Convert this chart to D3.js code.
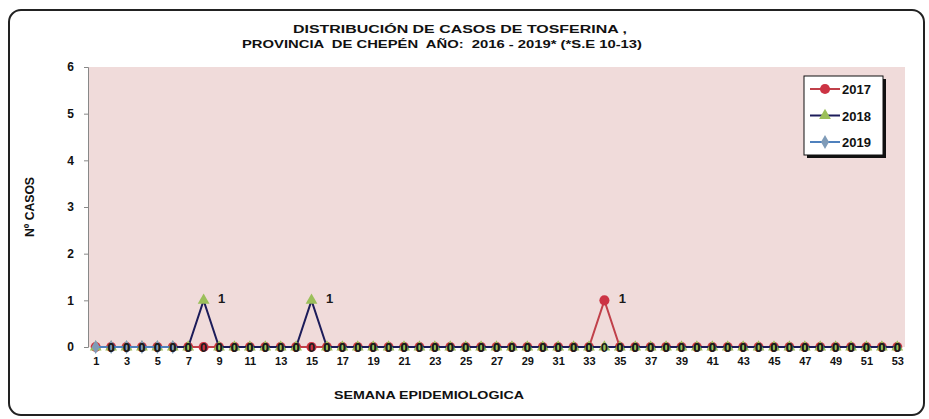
<!DOCTYPE html>
<html>
<head>
<meta charset="utf-8">
<script src="https://cdn.jsdelivr.net/npm/d3@7"></script>
<style>
  body { margin: 0; background: #fff; }
  text { font-family: "Liberation Sans", Arial, sans-serif; font-weight: bold; white-space: pre; }
</style>
</head>
<body>
<div id="chart"></div>
<script>
const weeks = [1,2,3,4,5,6,7,8,9,10,11,12,13,14,15,16,17,18,19,20,21,22,23,24,25,26,27,
  28,29,30,31,32,33,34,35,36,37,38,39,40,41,42,43,44,45,46,47,48,49,50,51,52,53];
const cases2017 = [0,0,0,0,0,0,0,0,0,0,0,0,0,0,0,0,0,0,0,0,0,0,0,0,0,0,0,
  0,0,0,0,0,0,1,0,0,0,0,0,0,0,0,0,0,0,0,0,0,0,0,0,0,0];
const cases2018 = [0,0,0,0,0,0,0,1,0,0,0,0,0,0,1,0,0,0,0,0,0,0,0,0,0,0,0,
  0,0,0,0,0,0,0,0,0,0,0,0,0,0,0,0,0,0,0,0,0,0,0,0,0,0];
const cases2019 = [0,0,0,0,0,0];
const yTicks = [0,1,2,3,4,5,6];
const xTickLabels = weeks.filter(w => w % 2 === 1);

const series = [
  { name: "2017", values: cases2017, line: "#c0404a", marker: "#cc3344", shape: d3.symbolCircle, size: 80 },
  { name: "2018", values: cases2018, line: "#1c1c5a", marker: "#9bbf5a", shape: d3.symbolTriangle, size: 60 },
  { name: "2019", values: cases2019, line: "#4f81bd", marker: "#7f9bb8", shape: d3.symbolDiamond, size: 55 }
];

const width = 929, height = 419;
const margin = { top: 67, right: 24, bottom: 72, left: 88 };
const innerW = width - margin.left - margin.right;
const innerH = height - margin.top - margin.bottom;

const svg = d3.select("#chart").append("svg")
  .attr("width", width)
  .attr("height", height);

// outer frame
svg.append("rect")
  .attr("x", 9).attr("y", 10)
  .attr("width", 915).attr("height", 405)
  .attr("rx", 12)
  .attr("fill", "#fff")
  .attr("stroke", "#222")
  .attr("stroke-width", 2);

// title
svg.append("text")
  .attr("x", 293).attr("y", 33)
  .attr("font-size", 11.5)
  .attr("fill", "#111")
  .attr("textLength", 334)
  .attr("lengthAdjust", "spacingAndGlyphs")
  .text("DISTRIBUCIÓN DE CASOS DE TOSFERINA ,");
svg.append("text")
  .attr("x", 242).attr("y", 48)
  .attr("font-size", 11.5)
  .attr("fill", "#111")
  .attr("textLength", 400)
  .attr("lengthAdjust", "spacingAndGlyphs")
  .text("PROVINCIA  DE CHEPÉN  AÑO:  2016 - 2019* (*S.E 10-13)");

const g = svg.append("g").attr("transform", `translate(${margin.left},${margin.top})`);

g.append("rect")
  .attr("width", innerW)
  .attr("height", innerH)
  .attr("fill", "#f0dbda");

const x = d3.scalePoint()
  .domain(weeks)
  .range([0, innerW])
  .padding(0.5);

const y = d3.scaleLinear()
  .domain([0, 6])
  .range([innerH, 0]);

const yAxis = g.append("g")
  .call(d3.axisLeft(y).tickValues(yTicks).tickSize(4).tickPadding(10).tickFormat(d3.format("d")));
yAxis.select(".domain").attr("stroke", "#888");
yAxis.selectAll(".tick line").attr("stroke", "#888");
yAxis.selectAll("text").attr("font-size", 12).attr("fill", "#111");

const xAxis = g.append("g")
  .attr("transform", `translate(0,${innerH})`)
  .call(d3.axisBottom(x).tickValues(xTickLabels).tickSize(0).tickPadding(10));
xAxis.select(".domain").remove();
xAxis.selectAll("text").attr("font-size", 11).attr("fill", "#111");

// series
const line = d3.line()
  .x((d, i) => x(weeks[i]))
  .y(d => y(d));

series.forEach(s => {
  g.append("path")
    .datum(s.values)
    .attr("fill", "none")
    .attr("stroke", s.line)
    .attr("stroke-width", 2)
    .attr("d", line);

  g.selectAll(null)
    .data(s.values)
    .enter()
    .append("path")
    .attr("transform", (d, i) => `translate(${x(weeks[i])},${y(d)})`)
    .attr("d", d3.symbol().type(s.shape).size(s.size))
    .attr("fill", s.marker);
});

// data labels
series.forEach(s => {
  g.selectAll(null)
    .data(s.values.map((v, i) => ({ v, w: weeks[i] })).filter(d => s.name !== "2019" && d.w > 1))
    .enter()
    .append("text")
    .attr("x", d => x(d.w) + (d.v > 0 ? 18 : 0))
    .attr("y", d => y(d.v) + (d.v > 0 ? 3 : 5))
    .attr("text-anchor", "middle")
    .attr("font-size", 13)
    .attr("fill", "#1a1a1a")
    .text(d => d.v);
});

// axis titles
svg.append("text")
  .attr("transform", "translate(34,207) rotate(-90)")
  .attr("text-anchor", "middle")
  .attr("font-size", 12)
  .attr("fill", "#111")
  .attr("textLength", 60)
  .attr("lengthAdjust", "spacingAndGlyphs")
  .text("Nº CASOS");

svg.append("text")
  .attr("x", 334)
  .attr("y", 399)
  .attr("font-size", 11)
  .attr("fill", "#111")
  .attr("textLength", 190)
  .attr("lengthAdjust", "spacingAndGlyphs")
  .text("SEMANA EPIDEMIOLOGICA");

// legend
const legend = svg.append("g").attr("transform", "translate(804,76)");
legend.append("rect")
  .attr("x", 3).attr("y", 3)
  .attr("width", 79).attr("height", 79)
  .attr("fill", "#111");
legend.append("rect")
  .attr("width", 79).attr("height", 79)
  .attr("fill", "#fff")
  .attr("stroke", "#111")
  .attr("stroke-width", 1);

series.forEach((s, i) => {
  const row = legend.append("g").attr("transform", `translate(0,${13 + i * 26.5})`);
  row.append("line")
    .attr("x1", 6).attr("x2", 36)
    .attr("stroke", s.line)
    .attr("stroke-width", 2);
  row.append("path")
    .attr("transform", "translate(21,0)")
    .attr("d", d3.symbol().type(s.shape).size(s.size))
    .attr("fill", s.marker);
  row.append("text")
    .attr("x", 38)
    .attr("y", 5)
    .attr("font-size", 13)
    .attr("fill", "#111")
    .text(s.name);
});
</script>
</body>
</html>
